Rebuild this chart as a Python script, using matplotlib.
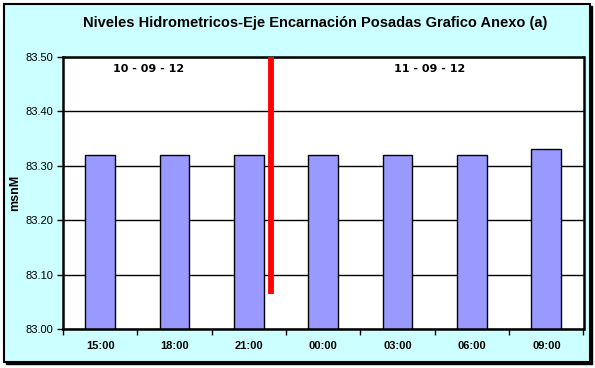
import matplotlib
matplotlib.use("Agg")
import matplotlib.pyplot as plt
from matplotlib.patches import Rectangle

# river level readings (msnM) every 3 hours
horas = ["15:00", "18:00", "21:00", "00:00", "03:00", "06:00", "09:00"]
niveles = [83.32, 83.32, 83.32, 83.32, 83.32, 83.32, 83.33]

# day change marker (between 21:00 and 00:00) and its lower end
corte_x = 2.30
corte_bajo = 83.065
fechas = ["10 - 09 - 12", "11 - 09 - 12"]
fechas_x = [0.65, 4.43]

plt.rcParams['font.family'] = ['Liberation Sans', 'DejaVu Sans']

W, H = 595, 368
fig = plt.figure(figsize=(W / 100, H / 100), dpi=100)
fig.patch.set_facecolor("white")

# light cyan chart area with black frame and small shadow, on a background axes
bg = fig.add_axes([0, 0, 1, 1], zorder=-1)
bg.set_xlim(0, W)
bg.set_ylim(H, 0)
bg.axis("off")
bg.add_patch(Rectangle((5.5, 5.5), 586, 358, facecolor="black", edgecolor="black", linewidth=1))
bg.add_patch(Rectangle((3.5, 3.5), 586, 358, facecolor="#CCFFFF", edgecolor="black", linewidth=1.5))

ax = fig.add_axes([63 / W, 1 - 329 / H, 520.5 / W, 272 / H])
ax.set_facecolor("white")

x = list(range(len(horas)))
ax.bar(x, niveles, width=0.4, bottom=0, color="#9999FF", edgecolor="black", linewidth=1, zorder=2)
ax.vlines(corte_x, corte_bajo, 83.5, color="#FF0000", linewidth=4.2, zorder=3)

for fx, txt in zip(fechas_x, fechas):
    ax.text(fx, 83.478, txt, ha="center", va="center", fontsize=8, fontweight="bold",
            family="DejaVu Sans", zorder=4)

ax.set_xlim(-0.5, len(horas) - 0.5)
ax.set_ylim(83.0, 83.5)
ax.set_yticks([83.0, 83.1, 83.2, 83.3, 83.4, 83.5])
ax.set_yticklabels(["%.2f" % v for v in ax.get_yticks()], fontsize=8)
ax.yaxis.grid(True, color="black", linewidth=1)
ax.set_axisbelow(True)

ax.set_xticks([i - 0.5 for i in range(len(horas) + 1)])
ax.set_xticklabels([])
ax.set_xticks(x, minor=True)
ax.set_xticklabels(horas, minor=True, fontsize=8, fontweight="bold")
ax.tick_params(axis="x", which="major", length=4, direction="out", width=1)
ax.tick_params(axis="x", which="minor", length=0, pad=8.5)
ax.tick_params(axis="y", length=4, width=1, pad=3)

for s in ax.spines.values():
    s.set_linewidth(1.8)

ax.set_ylabel("msnM", fontsize=9, fontweight="bold", labelpad=3)

fig.text(315 / W, 1 - 23.5 / H, "Niveles Hidrometricos-Eje Encarnación Posadas Grafico Anexo (a)",
         ha="center", va="center", fontsize=10.5, fontweight="bold")

fig.savefig("out.png", dpi=100, facecolor=fig.get_facecolor())
